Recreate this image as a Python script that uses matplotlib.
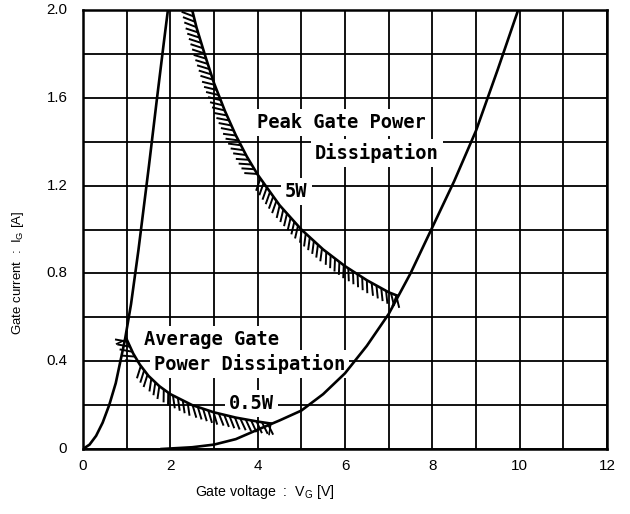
import numpy as np
import matplotlib
matplotlib.use("Agg")
import matplotlib.pyplot as plt
from matplotlib.collections import LineCollection

# ---- data ----
left_v = [0.0, 0.15, 0.3, 0.45, 0.6, 0.75, 0.96, 1.1, 1.27, 1.51, 1.69, 1.85, 1.97]
left_i = [0.0, 0.02, 0.06, 0.12, 0.2, 0.3, 0.497, 0.66, 0.907, 1.29, 1.59, 1.85, 2.04]

right_v = [1.8, 2.5, 3.0, 3.5, 4.0, 4.5, 5.0, 5.5, 6.0, 6.5, 7.0, 7.5, 8.0, 8.5, 9.0, 9.5, 10.0]
right_i = [0.0, 0.008, 0.02, 0.045, 0.088, 0.13, 0.175, 0.25, 0.345, 0.47, 0.615, 0.80, 1.01, 1.22, 1.45, 1.73, 2.02]

peak_v = [2.4, 2.6, 2.8, 3.0, 3.25, 3.5, 3.75, 4.0, 4.5, 5.0, 5.5, 6.0, 6.5, 7.0, 7.18]
peak_i = [2.08, 1.92, 1.79, 1.667, 1.54, 1.429, 1.333, 1.25, 1.111, 1.0, 0.909, 0.833, 0.769, 0.714, 0.70]

avg_v = [1.0, 1.15, 1.3, 1.5, 1.75, 2.0, 2.5, 3.0, 3.5, 4.0, 4.3]
avg_i = [0.5, 0.435, 0.385, 0.333, 0.286, 0.25, 0.2, 0.167, 0.143, 0.125, 0.116]

x_ticks = [0, 2, 4, 6, 8, 10, 12]
y_ticks = [0, 0.4, 0.8, 1.2, 1.6, 2.0]
y_tick_labels = ["0", "0.4", "0.8", "1.2", "1.6", "2.0"]

fig = plt.figure(figsize=(6.3, 5.14), dpi=100)
ax = fig.add_axes([83/630, 65/514, 524/630, 439/514])
ax.set_xlim(0, 12)
ax.set_ylim(0, 2.0)

# grid
ax.set_xticks(np.arange(0, 13, 1))
ax.set_yticks(np.arange(0, 2.01, 0.2))
ax.grid(True, color='black', linewidth=1.3)
ax.set_axisbelow(True)
ax.tick_params(length=0, labelbottom=False, labelleft=False)
for s in ax.spines.values():
    s.set_linewidth(1.8)
    s.set_zorder(5)

# tick labels
for v in x_ticks:
    ax.text(v, -0.045, str(v), ha='center', va='top', fontsize=11,
            family='Liberation Sans')
for v, lab in zip(y_ticks, y_tick_labels):
    ax.text(-0.36, v, lab, ha='right', va='center', fontsize=10.8,
            family='Liberation Sans')

fig.text(195/630, 1 - 496/514, r"Gate voltage  :  V$_{\mathregular{G}}$ [V]", ha='left',
         va='baseline', fontsize=10.2, family='Liberation Sans')
fig.text(18/630, 1 - 273/514, r"Gate current  :  I$_{\mathregular{G}}$ [A]", rotation=90,
         ha='center', va='center', fontsize=9.5, family='Liberation Sans')

# characteristic curves
ax.plot(left_v, left_i, color='black', lw=1.9, zorder=4)
ax.plot(right_v, right_i, color='black', lw=1.9, zorder=4)

sx = 524 / 12.0
sy = 439 / 2.0


def hatched(vs, is_, spacing=5.5, length=13.0, phi=-55.0, maxrot=35.0):
    vs = np.asarray(vs, float); is_ = np.asarray(is_, float)
    px = vs * sx; py = is_ * sy
    seg = np.hypot(np.diff(px), np.diff(py))
    s = np.concatenate([[0], np.cumsum(seg)])
    ss = np.arange(spacing / 2, s[-1], spacing)
    qx = np.interp(ss, s, px); qy = np.interp(ss, s, py)
    idx = np.clip(np.searchsorted(s, ss) - 1, 0, len(seg) - 1)
    tx = np.diff(px)[idx] / seg[idx]; ty = np.diff(py)[idx] / seg[idx]
    nx = -ty; ny = tx
    sgn = np.where(nx + ny > 0, -1.0, 1.0)
    nx *= sgn; ny *= sgn
    thn = np.degrees(np.arctan2(ny, nx))
    out = []
    for q1, q2, t in zip(qx, qy, thn):
        best = None
        for cand in (phi, phi + 180.0):
            diff = (cand - t + 180.0) % 360.0 - 180.0
            if best is None or abs(diff) < abs(best):
                best = diff
        best = max(-maxrot, min(maxrot, best))
        a = np.radians(t + best)
        out.append([(q1 / sx, q2 / sy),
                    ((q1 + np.cos(a) * length) / sx, (q2 + np.sin(a) * length) / sy)])
    lc = LineCollection(out, colors='black', linewidths=1.4, zorder=3, capstyle='butt')
    ax.add_collection(lc)
    ax.plot(vs, is_, color='black', lw=1.9, zorder=4)
    # end caps
    for k, j in ((0, 0), (-1, len(ss) - 1)):
        ax.plot([vs[k], (px[k] + nx[j] * 11) / sx],
                [is_[k], (py[k] + ny[j] * 11) / sy],
                color='black', lw=1.2, zorder=4)

hatched(peak_v, peak_i)
hatched(avg_v, avg_i)

# labels (above grid, below curves)
def label(x, y, s):
    ax.text(x / 630, 1 - y / 514, s, ha='left', va='baseline', transform=fig.transFigure,
            family='DejaVu Sans Mono', fontsize=13.5, fontweight='bold', color='black',
            zorder=2, bbox=dict(facecolor='white', edgecolor='none', pad=3.0))

label(257, 128, "Peak Gate Power")
label(315, 159, "Dissipation")
label(285, 197, "5W")
label(144, 345, "Average Gate")
label(154, 370, "Power Dissipation")
label(229, 409, "0.5W")

fig.savefig("out.png", dpi=100)
